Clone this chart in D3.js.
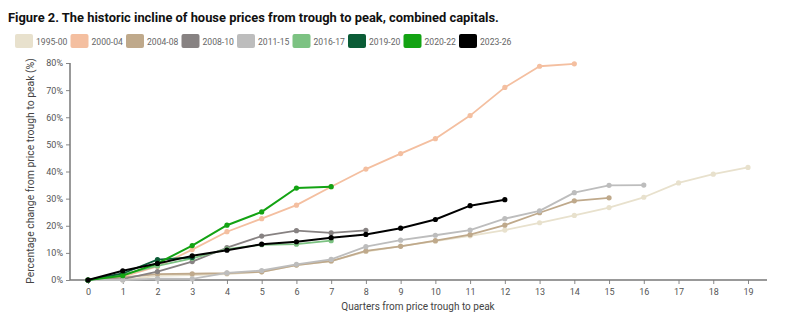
<!DOCTYPE html>
<html><head><meta charset="utf-8">
<script src="https://cdn.jsdelivr.net/npm/d3@7"></script>
<style>body{margin:0;background:#fff;}svg{display:block;font-family:Roboto,"Noto Sans",sans-serif;}</style>
</head><body><svg id="c" width="800" height="321"></svg>
<script>
const quarters = d3.range(0, 20);
const yTicks = [0, 10, 20, 30, 40, 50, 60, 70, 80];
const seriesNames = ["1995-00","2000-04","2004-08","2008-10","2011-15","2016-17","2019-20","2020-22","2023-26"];
const seriesColors = ["#e8e1cd","#f4bfa0","#bfa98b","#878282","#bdbdbd","#7cc282","#0b5c36","#13a313","#000000"];
const s1995 = [0,0,1.5,1.8,2.2,3.0,5.5,7.0,10.5,12.5,14.3,16.3,18.4,21.1,23.8,26.7,30.5,35.8,39.0,41.5];
const s2000 = [0,1.2,5.0,11.2,17.8,22.6,27.6,34.4,40.9,46.6,52.1,60.6,71.0,78.8,79.7];
const s2004 = [0,1.0,2.2,2.3,2.5,3.0,5.5,7.0,10.7,12.4,14.5,16.7,20.2,24.8,29.2,30.3];
const s2008 = [0,0.3,3.1,6.8,11.9,16.2,18.2,17.4,18.3];
const s2011 = [0,0,0.5,0.4,2.6,3.5,5.8,7.6,12.3,14.7,16.5,18.4,22.6,25.5,32.2,34.9,35.0];
const s2016 = [0,2.0,5.2,8.0,11.4,13.0,13.2,14.5];
const s2019 = [0,2.4,7.5,8.3];
const s2020 = [0,1.6,6.1,12.7,20.2,25.1,33.9,34.4];
const s2023 = [0,3.4,6.1,8.9,11.0,13.2,14.1,15.6,16.8,19.1,22.3,27.4,29.6];
const allSeries = [s1995,s2000,s2004,s2008,s2011,s2016,s2019,s2020,s2023];

const svg = d3.select("#c");
const x = d3.scaleLinear().domain([0,19]).range([88,748]);
const y = d3.scaleLinear().domain([0,80]).range([280,63]);

svg.append("text").attr("x",8).attr("y",22).attr("font-weight","bold").attr("font-size",12.9).attr("fill","#111")
  .text("Figure 2. The historic incline of house prices from trough to peak, combined capitals.");

const leg = svg.append("g");
seriesNames.forEach((n,i)=>{
  const lx = 15 + i*55.5;
  leg.append("rect").attr("x",lx).attr("y",34).attr("width",18).attr("height",14).attr("rx",2).attr("fill",seriesColors[i]);
  leg.append("text").attr("x",lx+21).attr("y",44.8).attr("font-size",8.6).attr("fill","#666").text(n);
});

// axes
const yAxis = svg.append("g").attr("transform","translate(70,0)")
  .call(d3.axisLeft(y).tickValues(yTicks).tickSize(4).tickFormat(d=>d+"%"));
const xAxis = svg.append("g").attr("transform","translate(0,280)")
  .call(d3.axisBottom(x).tickValues(quarters).tickSize(4).tickFormat(d3.format("d")));
[yAxis,xAxis].forEach(a=>{
  a.select(".domain").remove();
  a.selectAll(".tick line").attr("stroke","#888");
  a.selectAll(".tick text").attr("fill","#555").attr("font-size",9).attr("font-family","Roboto,sans-serif");
});
xAxis.selectAll(".tick text").attr("dy","0.9em");
svg.append("line").attr("x1",70).attr("x2",70).attr("y1",63).attr("y2",280).attr("stroke","#777").attr("stroke-width",1.5);
svg.append("line").attr("x1",70).attr("x2",767).attr("y1",280).attr("y2",280).attr("stroke","#777").attr("stroke-width",1.5);

svg.append("text").attr("x",418).attr("y",310).attr("text-anchor","middle").attr("font-size",10).attr("fill","#444")
  .text("Quarters from price trough to peak");
svg.append("text").attr("transform","translate(34,171) rotate(-90)").attr("text-anchor","middle").attr("font-size",10.4).attr("fill","#444")
  .text("Percentage change from price trough to peak (%)");

const line = d3.line().x((d,i)=>x(i)).y(d=>y(d));
allSeries.forEach((s,k)=>{
  const g = svg.append("g");
  const w = (k>=7)?2:1.8;
  g.append("path").attr("d",line(s)).attr("fill","none").attr("stroke",seriesColors[k]).attr("stroke-width",w).attr("stroke-linejoin","round");
  g.selectAll("circle").data(s).join("circle").attr("cx",(d,i)=>x(i)).attr("cy",d=>y(d)).attr("r",2.6).attr("fill",seriesColors[k]);
});
</script></body></html>
